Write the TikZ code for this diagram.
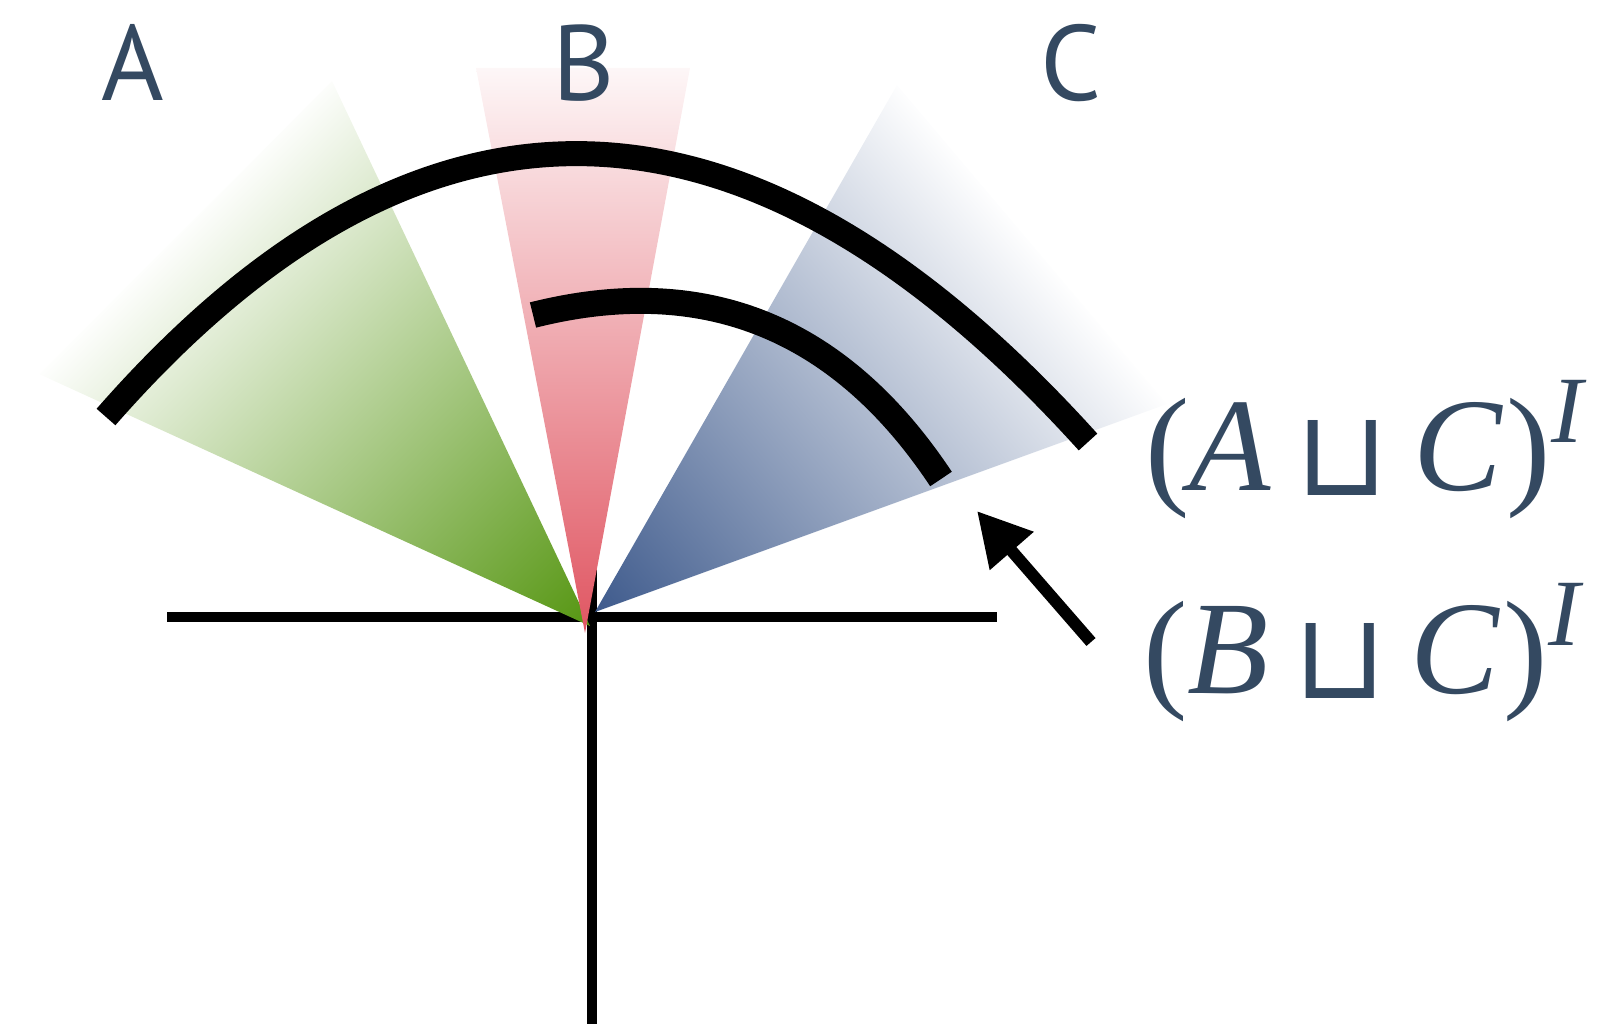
\documentclass[tikz,border=0pt]{standalone}
\usepackage{fontspec}
\usepackage{graphicx}
\setmainfont{Liberation Serif}
\newfontfamily\labfont{PT Sans}
\newfontfamily\tmsfont{Liberation Serif}
\newfontfamily\symfont{DejaVu Sans}
\usetikzlibrary{arrows.meta}
\definecolor{cG}{RGB}{86,150,18}
\definecolor{cR}{RGB}{224,86,98}
\definecolor{cB}{RGB}{62,90,140}
\definecolor{txt}{RGB}{52,73,97}
\newcommand{\sqcglyph}{\makebox[70pt]{\resizebox*{!}{75pt}{\symfont ⊔}}}
\newcommand{\unionlab}[1]{{\tmsfont\fontsize{133}{133}\selectfont(\textit{#1}\hspace{36pt}\raisebox{-5pt}{\sqcglyph}\hspace{36pt}\textit{C}\hspace{3pt})\hspace{1pt}\raisebox{48pt}{\fontsize{95}{95}\selectfont\textit{I}}}}
\tikzset{
  axisline/.style={line width=10pt, black},
  bigarc/.style={line width=25pt, black},
  smallarc/.style={line width=26pt, black},
  letterlab/.style={anchor=base, inner sep=0pt, text=txt, font=\labfont\fontsize{107}{107}\selectfont},
  mathlab/.style={anchor=base west, inner sep=0pt, text=txt},
  pointer/.style={line width=12pt, black, -{Triangle[length=53pt,width=55pt]}}
}
\begin{document}
\begin{tikzpicture}[x=1pt,y=-1pt]
\useasboundingbox (0,0) rectangle (1619,1024);
% coordinates
\coordinate (gA) at (590,626);
\coordinate (gL) at (39,374);
\coordinate (gT) at (332,81);
\coordinate (rA) at (585,633);
\coordinate (rL) at (476,68);
\coordinate (rR) at (690,68);
\coordinate (bA) at (595,612);
\coordinate (bT) at (897,85);
\coordinate (bR) at (1167,404);
\coordinate (hL) at (167,617);
\coordinate (hR) at (997,617);
\coordinate (vT) at (592,560);
\coordinate (vB) at (592,1024);
\coordinate (arrS) at (1091,642);
\coordinate (arrT) at (977,511);
% axes
\draw[axisline] (hL) -- (hR);
\draw[axisline] (vT) -- (vB);
% green wedge
\begin{scope}
  \clip (gA) -- (gL) -- (gT) -- cycle;
  \shade[transform canvas={shift={(gA)},rotate=135.7}, left color=cG, right color=white] (0,-700) rectangle (575,700);
\end{scope}
% red wedge
\shade[bottom color=cR, top color=cR!5] (rA) -- (rL) -- (rR) -- cycle;
% blue wedge
\begin{scope}
  \clip (bA) -- (bT) -- (bR) -- cycle;
  \shade[transform canvas={shift={(bA)},rotate=40}, left color=cB, right color=white] (0,-700) rectangle (575,700);
\end{scope}
% arcs
\draw[bigarc] (106,417) .. controls (420.7,57.7) and (748,66) .. (1088,442);
\draw[smallarc] (533,315) .. controls (704,272) and (840,327) .. (941,479);
% arrow
\draw[pointer] (arrS) -- (arrT);
% labels
\node[letterlab] (la) at (133,101) {A};
\node[letterlab] (lb) at (584,101) {B};
\node[letterlab] (lc) at (1071,101) {C};
\node[mathlab] (l1) at (1145,490) {\unionlab{A}};
\node[mathlab] (l2) at (1143,693) {\unionlab{B}};
\end{tikzpicture}
\end{document}
